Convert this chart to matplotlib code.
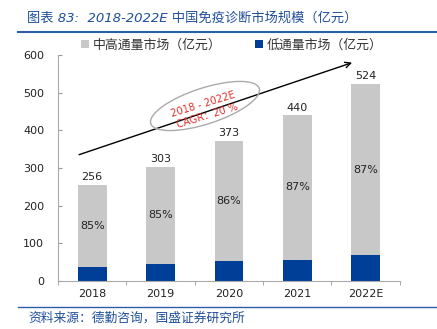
import matplotlib
matplotlib.use("Agg")
import matplotlib.pyplot as plt
import matplotlib.patches as patches
from matplotlib.lines import Line2D
import numpy as np

plt.rcParams['font.family'] = ['DejaVu Sans', 'Noto Sans CJK SC']

# 数据
years = ['2018', '2019', '2020', '2021', '2022E']
totals = [256, 303, 373, 440, 524]
low = [38, 45, 52, 57, 68]
high = [218, 258, 321, 383, 456]
high_pct = ['85%', '85%', '86%', '87%', '87%']

GRAY = '#C8C8C8'
BLUE = '#003F98'
TITLE_BLUE = '#1F4E9A'
RED = '#E0302C'

fig = plt.figure(figsize=(4.37, 3.29), dpi=100)
ax = fig.add_axes([0.1327, 0.1459, 0.915 - 0.1327, 0.8328 - 0.1459])

x = np.arange(len(years))
w = 0.42
ax.bar(x, low, w, color=BLUE, label='低通量市场（亿元）', zorder=2)
ax.bar(x, high, w, bottom=low, color=GRAY, label='中高通量市场（亿元）', zorder=2)

for i in range(len(years)):
    ax.text(x[i], totals[i] + 7, str(totals[i]), ha='center', va='bottom', fontsize=8, color='#222222')
    ax.text(x[i], low[i] + high[i] / 2, high_pct[i], ha='center', va='center', fontsize=8, color='#222222')

ax.set_xlim(-0.5, 4.5)
ax.set_ylim(0, 600)
ax.set_yticks(range(0, 601, 100))
ax.set_xticks(x)
ax.set_xticklabels(years)
ax.set_xticks(np.arange(-0.5, 5, 1), minor=True)
ax.tick_params(axis='x', which='major', length=0, labelsize=8, pad=6, colors='#222222')
ax.tick_params(axis='x', which='minor', length=3, direction='out', color='#999999')
ax.tick_params(axis='y', length=3, direction='in', labelsize=8, pad=10, color='#999999', labelcolor='#222222')
for s in ['top', 'right']:
    ax.spines[s].set_visible(False)
for s in ['left', 'bottom']:
    ax.spines[s].set_color('#AAAAAA')
    ax.spines[s].set_linewidth(0.8)

# 趋势箭头
ax.annotate('', xy=(3.84, 582), xytext=(-0.23, 333),
            arrowprops=dict(arrowstyle='->', color='black', lw=1.0), zorder=3)

# CAGR 椭圆
ell = patches.Ellipse((2.05, 2.23), 1.14, 0.36, angle=18, fill=False,
                      edgecolor='#AAAAAA', lw=1.0, transform=fig.dpi_scale_trans)
fig.patches.append(ell)
fig.text(2.03 / 4.37, (329 - 104) / 329, '2018 - 2022E', color=RED, fontsize=7.2,
         rotation=17, ha='center', va='center')
fig.text(2.07 / 4.37, (329 - 116) / 329, 'CAGR：20 %', color=RED, fontsize=7.2,
         rotation=17, ha='center', va='center', family=['DejaVu Sans', 'Noto Sans CJK SC'])

# 图例
handles, labels = ax.get_legend_handles_labels()
leg = fig.legend(handles[::-1], labels[::-1], loc='center', bbox_to_anchor=(0.53, (329 - 45) / 329),
                 ncol=2, frameon=False, handlelength=0.6, handleheight=0.6,
                 handletextpad=0.3, columnspacing=2.6,
                 prop={'family': ['Noto Sans CJK SC'], 'size': 9.3})
for t in leg.get_texts():
    t.set_color('#333333')

# 标题与来源
fig.text(27 / 437, (329 - 18) / 329, '图表 83:  2018-2022E 中国免疫诊断市场规模（亿元）',
         color=TITLE_BLUE, fontsize=9.5, style='italic',
         ha='left', va='center', family=['DejaVu Sans', 'Noto Sans CJK SC'])
fig.add_artist(Line2D([18 / 437, 1], [(329 - 32) / 329] * 2, color='#2E5DA8', lw=1.5))
fig.add_artist(Line2D([18 / 437, 1], [(329 - 307) / 329] * 2, color='#2E5DA8', lw=1.0))
fig.text(28 / 437, (329 - 318) / 329, '资料来源：德勤咨询，国盛证券研究所',
         color=TITLE_BLUE, fontsize=9.2, style='italic', ha='left', va='center',
         family=['Noto Sans CJK SC'])

fig.savefig('out.png', dpi=100)
